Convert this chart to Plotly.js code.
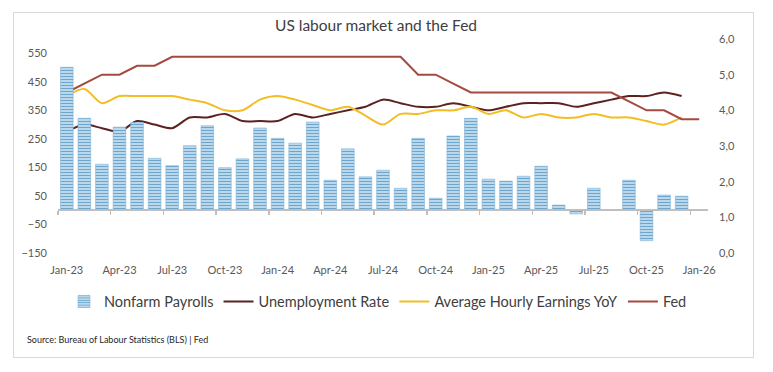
<!DOCTYPE html>
<html>
<head>
<meta charset="utf-8">
<script src="https://cdn.plot.ly/plotly-3.0.1.min.js"></script>
<style>
  html, body { margin: 0; padding: 0; background: #ffffff; }
  #chart { width: 773px; height: 372px; position: relative; }
  #frame { position: absolute; left: 13px; top: 12px; width: 739px; height: 344px; border: 1px solid #d9d9d9; pointer-events: none; }
</style>
</head>
<body>
<div id="chart"></div>
<div id="frame"></div>
<script>
// ---- data ----
const months = ["Jan-23","Feb-23","Mar-23","Apr-23","May-23","Jun-23","Jul-23","Aug-23","Sep-23","Oct-23","Nov-23","Dec-23",
                "Jan-24","Feb-24","Mar-24","Apr-24","May-24","Jun-24","Jul-24","Aug-24","Sep-24","Oct-24","Nov-24","Dec-24",
                "Jan-25","Feb-25","Mar-25","Apr-25","May-25","Jun-25","Jul-25","Aug-25","Sep-25","Oct-25","Nov-25","Dec-25",
                "Jan-26"];
const nonfarmPayrolls = [501,322,161,291,307,182,156,226,296,149,180,288,
                         252,235,309,105,215,117,140,77,252,42,260,322,
                         109,102,119,154,18,-13,77,0,105,-107,53,49,
                         null];
const unemploymentRate = [3.4,3.6,3.5,3.4,3.7,3.6,3.5,3.8,3.8,3.9,3.7,3.7,
                          3.7,3.9,3.8,3.9,4.0,4.1,4.3,4.2,4.1,4.1,4.2,4.1,
                          4.0,4.1,4.2,4.2,4.2,4.1,4.2,4.3,4.4,4.4,4.5,4.4,
                          null];
const avgHourlyEarningsYoY = [4.4,4.6,4.2,4.4,4.4,4.4,4.4,4.3,4.2,4.0,4.0,4.3,
                              4.4,4.3,4.15,4.0,4.1,3.85,3.6,3.9,3.9,4.0,4.0,4.1,
                              3.9,4.0,3.8,3.9,3.8,3.8,3.9,3.8,3.8,3.7,3.6,3.8,
                              null];
const fedRate = [4.5,4.75,5.0,5.0,5.25,5.25,5.5,5.5,5.5,5.5,5.5,5.5,
                 5.5,5.5,5.5,5.5,5.5,5.5,5.5,5.5,5.0,5.0,4.75,4.5,
                 4.5,4.5,4.5,4.5,4.5,4.5,4.5,4.5,4.25,4.0,4.0,3.75,3.75];
const xTickLabels = ["Jan-23","Apr-23","Jul-23","Oct-23","Jan-24","Apr-24","Jul-24","Oct-24","Jan-25","Apr-25","Jul-25","Oct-25","Jan-26"];
const leftTicks = [-150,-50,50,150,250,350,450,550];
const rightTicks = [0,1,2,3,4,5,6];
const rightTickText = ["0,0","1,0","2,0","3,0","4,0","5,0","6,0"];

// ---- build ----
const idx = months.map((m, i) => i);
const labelIdx = xTickLabels.map(l => months.indexOf(l));
const boundaryIdx = labelIdx.map(i => i - 0.5);
const FONT = "Lato, 'Open Sans', sans-serif";
const xr = [-0.5, months.length - 0.5];

const traces = [
  {
    type: "bar", name: "Nonfarm Payrolls", x: idx, y: nonfarmPayrolls,
    xaxis: "x2", yaxis: "y",
    marker: {
      color: "#cfe4f1",
      line: { color: "#7fb3d6", width: 0.6 },
      pattern: { shape: "-", fgcolor: "#6aa6cf", bgcolor: "#d6e8f4", size: 3, solidity: 0.5 }
    },
    customdata: months,
    hovertemplate: "%{customdata}: %{y}<extra></extra>"
  },
  {
    type: "scatter", mode: "lines", name: "Unemployment Rate", x: idx, y: unemploymentRate,
    xaxis: "x", yaxis: "y2",
    line: { color: "#5b2220", width: 2, shape: "spline", smoothing: 0.8 }
  },
  {
    type: "scatter", mode: "lines", name: "Average Hourly Earnings YoY", x: idx, y: avgHourlyEarningsYoY,
    xaxis: "x", yaxis: "y2",
    line: { color: "#f2bd25", width: 2, shape: "spline", smoothing: 0.8 }
  },
  {
    type: "scatter", mode: "lines", name: "Fed", x: idx, y: fedRate,
    xaxis: "x", yaxis: "y2",
    line: { color: "#a44a40", width: 2 }
  }
];

const layout = {
  width: 773, height: 372,
  margin: { l: 58, r: 65, t: 38.7, b: 118.7 },
  paper_bgcolor: "rgba(0,0,0,0)", plot_bgcolor: "rgba(0,0,0,0)",
  separators: ", ",
  font: { family: FONT, color: "#595959", size: 11 },
  title: {
    text: "US labour market and the Fed",
    font: { family: FONT, size: 15.5, color: "#404040" },
    x: 376 / 773, xanchor: "center", xref: "container",
    y: (372 - 26) / 372, yanchor: "middle", yref: "container"
  },
  showlegend: true,
  legend: {
    orientation: "h", x: (378 - 58) / 650, xanchor: "center",
    y: (253.3 - 302) / 214.6, yanchor: "middle",
    font: { family: FONT, size: 14.5, color: "#404040" },
    traceorder: "normal", itemwidth: 30, bgcolor: "rgba(0,0,0,0)"
  },
  bargap: 0.28,
  xaxis: {
    range: xr, tickmode: "array", tickvals: labelIdx, ticktext: xTickLabels,
    showgrid: false, zeroline: false, showline: false, ticks: "",
    ticklabelstandoff: 9, fixedrange: true
  },
  xaxis2: {
    overlaying: "x", anchor: "free", position: 0.2, range: xr,
    tickmode: "array", tickvals: boundaryIdx, showticklabels: false,
    ticks: "outside", ticklen: 4, tickwidth: 1.5, tickcolor: "#bfbfbf",
    showline: true, linecolor: "#bfbfbf", linewidth: 2,
    showgrid: false, zeroline: false, fixedrange: true
  },
  yaxis: {
    range: [-150, 600], tickmode: "array", tickvals: leftTicks,
    showgrid: false, zeroline: false, showline: false, ticks: "",
    ticklabelstandoff: 10, fixedrange: true
  },
  yaxis2: {
    overlaying: "y", side: "right", anchor: "x", range: [0, 6],
    tickmode: "array", tickvals: rightTicks, ticktext: rightTickText,
    showgrid: false, zeroline: false, showline: false, ticks: "",
    ticklabelstandoff: 10, fixedrange: true
  },
  annotations: [{
    text: "Source: Bureau of Labour Statistics (BLS) | Fed",
    xref: "paper", yref: "paper", x: (24.5 - 58) / 650, xanchor: "left",
    y: (253.3 - 340) / 214.6, yanchor: "middle", showarrow: false,
    font: { family: FONT, size: 9, color: "#262626" }
  }]
};

Plotly.newPlot("chart", traces, layout, { displayModeBar: false, staticPlot: true });
</script>
</body>
</html>
